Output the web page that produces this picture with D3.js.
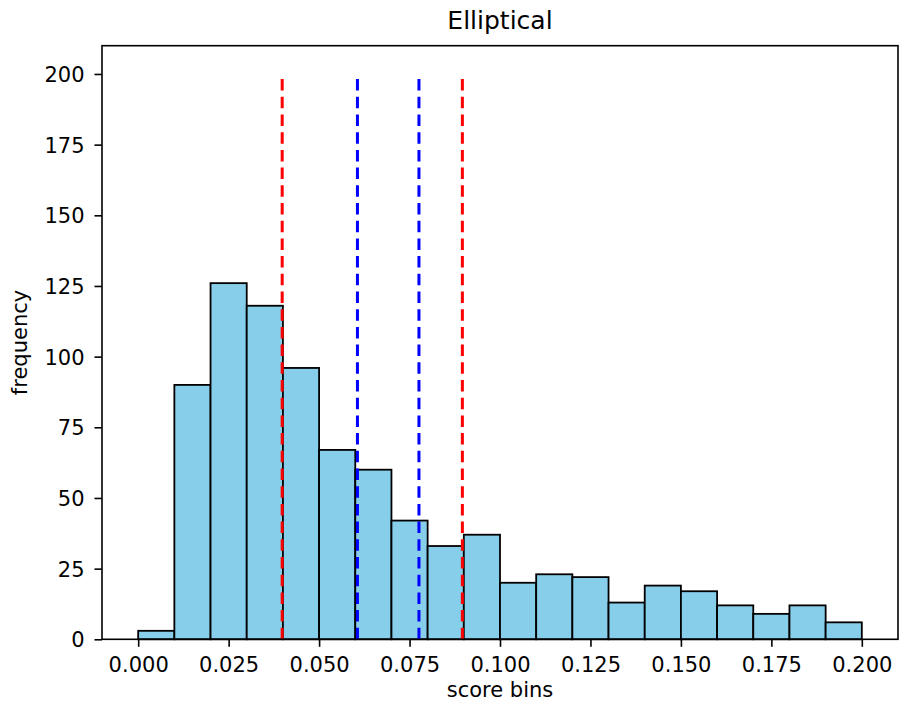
<!DOCTYPE html>
<html>
<head>
<meta charset="utf-8">
<script src="https://cdn.jsdelivr.net/npm/d3@7"></script>
<style>
  html, body { margin: 0; padding: 0; background: #fff; }
  svg { display: block; }
  text { font-family: "DejaVu Sans", sans-serif; fill: #000; }
</style>
</head>
<body>
<script>
// ---- data ----
const binEdges = [0.00, 0.01, 0.02, 0.03, 0.04, 0.05, 0.06, 0.07, 0.08, 0.09, 0.10,
                  0.11, 0.12, 0.13, 0.14, 0.15, 0.16, 0.17, 0.18, 0.19, 0.20];
const counts = [3, 90, 126, 118, 96, 67, 60, 42, 33, 37, 20, 23, 22, 13, 19, 17, 12, 9, 12, 6];
const redLines = [0.0398, 0.0896];
const blueLines = [0.0606, 0.0776];
const lineTop = 200;
const xTicks = [0, 0.025, 0.05, 0.075, 0.1, 0.125, 0.15, 0.175, 0.2];
const yTicks = [0, 25, 50, 75, 100, 125, 150, 175, 200];
const title = "Elliptical";
const xLabel = "score bins";
const yLabel = "frequency";

// ---- layout ----
const W = 899, H = 711;
const mLeft = 102, mRight = 898, mTop = 45.7, mBottom = 639.3;

const svg = d3.select("body").append("svg").attr("width", W).attr("height", H);

const x = d3.scaleLinear().domain([-0.01, 0.21]).range([mLeft, mRight]);
const y = d3.scaleLinear().domain([0, 210]).range([mBottom, mTop]);

const bins = counts.map((c, i) => ({ x0: binEdges[i], x1: binEdges[i + 1], c }));

// bars
svg.append("g").selectAll("rect").data(bins).join("rect")
  .attr("x", d => x(d.x0))
  .attr("y", d => y(d.c))
  .attr("width", d => x(d.x1) - x(d.x0))
  .attr("height", d => y(0) - y(d.c))
  .attr("fill", "#87CEEB")
  .attr("stroke", "#000")
  .attr("stroke-width", 1.8);

// dashed vertical lines
const vl = [...redLines.map(v => ({ v, col: "#ff0000" })), ...blueLines.map(v => ({ v, col: "#0000ff" }))];
svg.append("g").selectAll("line").data(vl).join("line")
  .attr("x1", d => x(d.v)).attr("x2", d => x(d.v))
  .attr("y1", y(0)).attr("y2", y(lineTop))
  .attr("stroke", d => d.col)
  .attr("stroke-width", 3)
  .attr("stroke-dasharray", "11.5,6.2");

// frame
svg.append("rect")
  .attr("x", mLeft).attr("y", mTop)
  .attr("width", mRight - mLeft).attr("height", mBottom - mTop)
  .attr("fill", "none").attr("stroke", "#000").attr("stroke-width", 1.6);

// x axis
const xAxis = d3.axisBottom(x).tickValues(xTicks).tickFormat(d3.format(".3f"))
  .tickSize(7.5).tickPadding(0);
const gx = svg.append("g").attr("transform", `translate(0,${mBottom})`).call(xAxis);
gx.select(".domain").remove();
gx.selectAll(".tick line").attr("stroke", "#000").attr("stroke-width", 1.6);
gx.selectAll(".tick text")
  .attr("y", 33).attr("dy", null)
  .style("font-size", "21px").style("font-family", "DejaVu Sans").attr("fill", "#000");

// y axis
const yAxis = d3.axisLeft(y).tickValues(yTicks).tickSize(7.5).tickPadding(0);
const gy = svg.append("g").attr("transform", `translate(${mLeft},0)`).call(yAxis);
gy.select(".domain").remove();
gy.selectAll(".tick line").attr("stroke", "#000").attr("stroke-width", 1.6);
gy.selectAll(".tick text")
  .attr("x", -17.5).attr("dy", "0.36em")
  .style("font-size", "21px").style("font-family", "DejaVu Sans").attr("fill", "#000");

// title & labels
svg.append("text").attr("x", (mLeft + mRight) / 2).attr("y", 29)
  .attr("text-anchor", "middle").style("font-size", "25px").text(title);
svg.append("text").attr("x", (mLeft + mRight) / 2).attr("y", 697)
  .attr("text-anchor", "middle").style("font-size", "21px").text(xLabel);
svg.append("text")
  .attr("transform", `translate(27,${(mTop + mBottom) / 2}) rotate(-90)`)
  .attr("text-anchor", "middle").style("font-size", "21px").text(yLabel);
</script>
</body>
</html>
